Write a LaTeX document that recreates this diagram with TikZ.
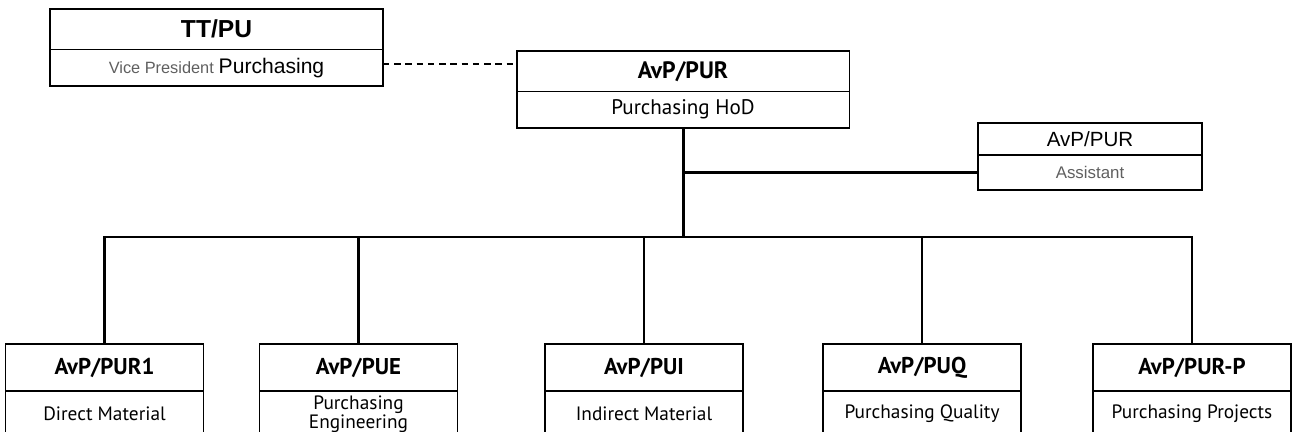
\documentclass[tikz,border=0pt]{standalone}
\usepackage{fontspec}
\setmainfont{PT Sans}
\newfontfamily\arialfont{Liberation Sans}
\usetikzlibrary{positioning}
\definecolor{rolegray}{RGB}{95,95,95}
\tikzset
{
    tophead/.style  = {draw=black, line width=1.1pt, inner sep=0pt, outer sep=0pt, minimum width=6.66cm, minimum height=0.81cm},
    toprole/.style  = {draw=black, line width=1.1pt, inner sep=0pt, outer sep=0pt, minimum width=6.66cm, minimum height=0.73cm},
    ashead/.style   = {draw=black, line width=1.1pt, inner sep=0pt, outer sep=0pt, minimum width=4.48cm, minimum height=0.64cm, font=\arialfont\fontsize{11.7}{13}\selectfont},
    asrole/.style   = {draw=black, line width=1.1pt, inner sep=0pt, outer sep=0pt, minimum width=4.48cm, minimum height=0.70cm, font=\arialfont\fontsize{9.6}{11}\selectfont, text=rolegray},
    unithead/.style = {draw=black, line width=1.1pt, inner sep=0pt, outer sep=0pt, minimum width=3.96cm, minimum height=0.94cm, font=\bfseries\fontsize{13}{15}\selectfont},
    unitrole/.style = {draw=black, line width=1.1pt, inner sep=0pt, outer sep=0pt, minimum width=3.96cm, minimum height=0.92cm, align=center, font=\fontsize{11}{11}\selectfont},
    link/.style     = {line width=1.2pt},
    trunk/.style    = {line width=1.7pt}
}

\begin{document}
\begin{tikzpicture}[x=0.02cm, y=-0.02cm]
\path[use as bounding box] (0,0) rectangle (1293,432);
\clip (0,0) rectangle (1293,432);
% top level
\node [tophead, font=\arialfont\bfseries\fontsize{14}{16}\selectfont] at (216.5,29.25) (tthead) {TT/PU};
\node [toprole, below=0pt of tthead] (ttrole) {\arialfont{\fontsize{9.3}{11}\selectfont\color{rolegray}Vice President} {\fontsize{12}{14}\selectfont Purchasing}};
\node [tophead, font=\bfseries\fontsize{13.5}{15}\selectfont] at (683,71.25) (purhead) {AvP/PUR};
\node [toprole, below=0pt of purhead, font=\fontsize{12}{14}\selectfont] (purrole) {Purchasing HoD};
\node [ashead] at (1090,139) (ashead) {AvP/PUR};
\node [asrole, below=0pt of ashead] (asrole) {Assistant};
% units
\node [unithead] at (104.5,367.5) (pur1head) {AvP/PUR1};
\node [unitrole, below=0pt of pur1head] (pur1role) {Direct Material};
\node [unithead] at (358.5,367.5) (puehead) {AvP/PUE};
\node [unitrole, below=0pt of puehead] (puerole) {Purchasing\\Engineering};
\node [unithead] at (644,367.5) (puihead) {AvP/PUI};
\node [unitrole, below=0pt of puihead] (puirole) {Indirect Material};
\node [unithead] at (922,367.5) (puqhead) {AvP/PUQ};
\node [unitrole, below=0pt of puqhead] (puqrole) {Purchasing Quality};
\node [unithead] at (1192,367.5) (purphead) {AvP/PUR-P};
\node [unitrole, below=0pt of purphead] (purprole) {Purchasing Projects};
% lines
\coordinate (bus) at (683,237);
\draw [link, dash pattern=on 3.6pt off 2.8pt] ([yshift=0.07cm]ttrole.east) -- ([yshift=0.07cm]ttrole.east -| purhead.west);
\draw [trunk] (purrole.south) -- (purrole.south |- bus);
\draw [link] (asrole.west) -- (asrole.west -| purrole.south);
\draw [link] (pur1head.north) -- (pur1head.north |- bus) -- (purphead.north |- bus) -- (purphead.north);
\draw [link] (puehead.north) -- (puehead.north |- bus);
\draw [link] (puihead.north) -- (puihead.north |- bus);
\draw [link] (puqhead.north) -- (puqhead.north |- bus);
\end{tikzpicture}
\end{document}
